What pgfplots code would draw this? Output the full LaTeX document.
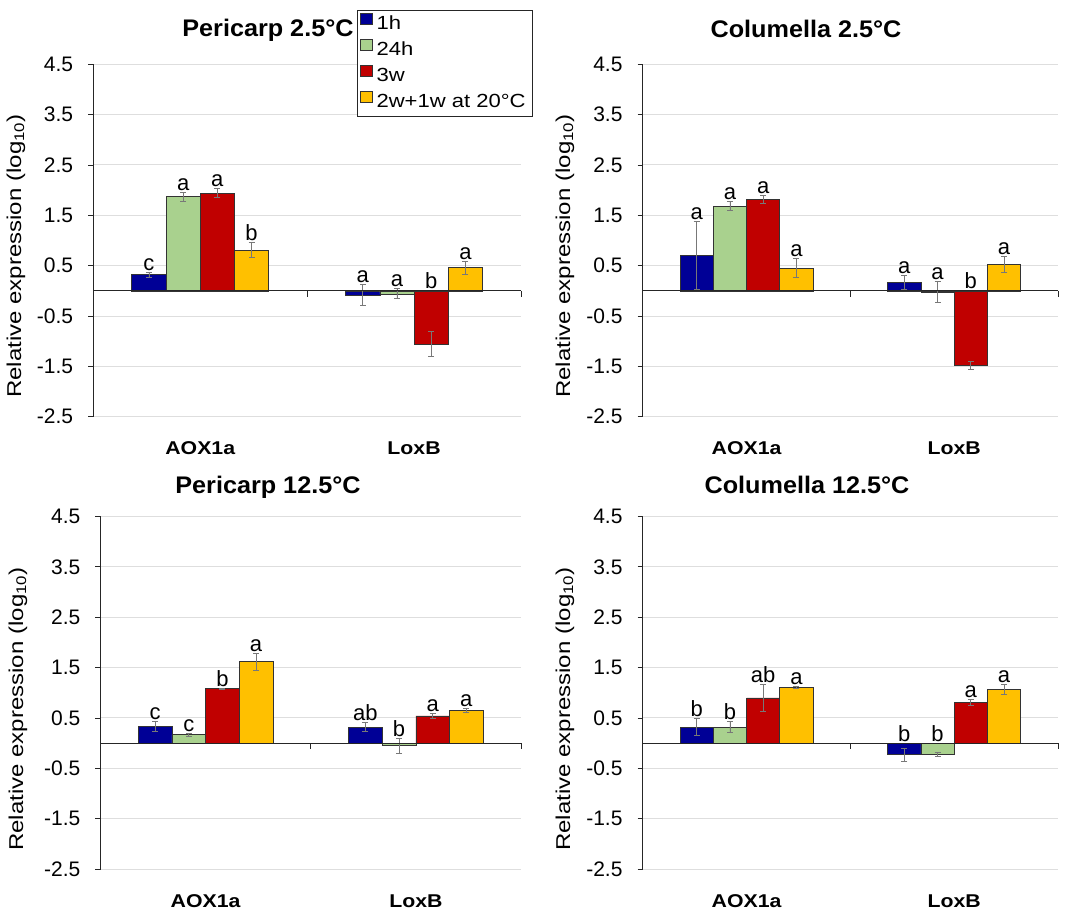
\documentclass[border=0pt]{standalone}
\usepackage{fontspec}
\setmainfont{Liberation Sans}
\usepackage{graphicx}
\usepackage{pgfplots}
\usepackage{pgfplotstable}
\pgfplotsset{compat=1.18}

\definecolor{c1}{RGB}{0,0,150}
\definecolor{c2}{RGB}{169,209,142}
\definecolor{c3}{RGB}{192,0,0}
\definecolor{c4}{RGB}{255,192,0}
\definecolor{errc}{RGB}{120,120,120}
\definecolor{gridc}{RGB}{222,222,222}

\newcommand\tickfont{\fontsize{21}{23}\selectfont}
\newcommand\titlefont{\fontsize{24}{26}\selectfont\bfseries}
\newcommand\xlfont{\fontsize{18.5}{20}\selectfont\bfseries}
\newcommand\legfont{\fontsize{19}{21}\selectfont}
\newcommand\ylfont{\fontsize{20}{22}\selectfont}
\newcommand\lblfont{\fontsize{22}{24}\selectfont}
\newcommand\hs[2]{\scalebox{#1}[1]{#2}}

% Pericarp 2.5 C
\pgfplotstableread{
x y1 e1 l1 y2 e2 l2 y3 e3 l3 y4 e4 l4
0 0.32 0.05 c 1.87 0.09 a 1.94 0.09 a 0.81 0.15 b
1 -0.08 0.20 a -0.06 0.10 a -1.06 0.25 b 0.46 0.13 a
}\tPA
% Columella 2.5 C
\pgfplotstableread{
x y1 e1 l1 y2 e2 l2 y3 e3 l3 y4 e4 l4
0 0.70 0.67 a 1.68 0.09 a 1.81 0.08 a 0.45 0.19 a
1 0.17 0.14 a -0.02 0.20 a -1.48 0.08 b 0.52 0.16 a
}\tCA
% Pericarp 12.5 C
\pgfplotstableread{
x y1 e1 l1 y2 e2 l2 y3 e3 l3 y4 e4 l4
0 0.34 0.10 c 0.17 0.03 c 1.08 0.01 b 1.62 0.17 a
1 0.32 0.09 ab -0.05 0.15 b 0.54 0.05 a 0.65 0.04 a
}\tPB
% Columella 12.5 C
\pgfplotstableread{
x y1 e1 l1 y2 e2 l2 y3 e3 l3 y4 e4 l4
0 0.32 0.17 b 0.32 0.11 b 0.90 0.26 ab 1.10 0.02 a
1 -0.23 0.13 b -0.22 0.04 b 0.81 0.06 a 1.07 0.10 a
}\tCB

\pgfplotsset{
  panel/.style={
    scale only axis, anchor=south west, height=352.4pt,
    ybar=0pt, bar width=0.16,
    xmin=-0.5, xmax=1.5, ymin=-2.5, ymax=4.5,
    axis y line*=left, axis x line*=bottom,
    x axis line style={draw=none},
    y axis line style={black!85, line width=0.9pt},
    xtick={0,1}, xticklabels={\hs{1.15}{AOX1a},\hs{1.15}{LoxB}},
    xtick style={draw=none},
    xticklabel style={font=\xlfont, anchor=base, yshift=-33pt, inner sep=0pt},
    ytick={-2.5,-1.5,-0.5,0.5,1.5,2.5,3.5,4.5},
    yticklabels={-2.5,-1.5,-0.5,0.5,1.5,2.5,3.5,4.5},
    yticklabel style={font=\tickfont, anchor=east, inner sep=0pt, xshift=-15pt},
    ytick style={black!85, line width=0.9pt},
    tick align=outside, major tick length=5pt,
    ymajorgrids, major grid style={gridc, line width=1pt},
    clip=false,
  },
  b1/.style={fill=c1, draw=black!80, line width=0.6pt, bar shift=-0.24},
  b2/.style={fill=c2, draw=black!80, line width=0.6pt, bar shift=-0.08},
  b3/.style={fill=c3, draw=black!80, line width=0.6pt, bar shift=0.08},
  b4/.style={fill=c4, draw=black!80, line width=0.6pt, bar shift=0.24},
  err/.style={error bars/y dir=both, error bars/y explicit,
    error bars/error bar style={errc, line width=0.8pt},
    error bars/error mark options={errc, line width=0.8pt, mark size=3pt, rotate=90}},
  lbl/.style={draw=none, fill=none, forget plot, nodes near coords={\pgfplotspointmeta},
    point meta=explicit symbolic,
    every node near coord/.append style={font=\lblfont, anchor=south, inner sep=1.5pt, text=black}},
}

\newcommand\panelplots[1]{%
  \addplot[b1, err] table[x=x, y=y1, y error=e1] {#1};
  \addplot[b2, err] table[x=x, y=y2, y error=e2] {#1};
  \addplot[b3, err] table[x=x, y=y3, y error=e3] {#1};
  \addplot[b4, err] table[x=x, y=y4, y error=e4] {#1};
  \addplot[lbl, bar shift=-0.24] table[x=x, y expr={max(0,\thisrow{y1}+\thisrow{e1})}, meta=l1] {#1};
  \addplot[lbl, bar shift=-0.08] table[x=x, y expr={max(0,\thisrow{y2}+\thisrow{e2})}, meta=l2] {#1};
  \addplot[lbl, bar shift=0.08] table[x=x, y expr={max(0,\thisrow{y3}+\thisrow{e3})}, meta=l3] {#1};
  \addplot[lbl, bar shift=0.24] table[x=x, y expr={max(0,\thisrow{y4}+\thisrow{e4})}, meta=l4] {#1};
  \draw[black!85, line width=0.9pt] (axis cs:-0.5,0) -- (axis cs:1.5,0);
  \draw[black!85, line width=0.9pt] (axis cs:0.5,0) -- ++(0pt,-6pt);
  \draw[black!85, line width=0.9pt] (axis cs:1.5,0) -- ++(0pt,-6pt);
}

\begin{document}
\begin{tikzpicture}[x=1pt,y=1pt]
\useasboundingbox (0,0) rectangle (1070,911);

% top-left
\begin{axis}[panel, at={(93.3pt,494.3pt)}, width=427.7pt,
  legend style={at={(0.6166,1.154)}, anchor=north west, draw=black!85, line width=0.8pt,
    font=\legfont, fill=white, inner xsep=3pt, inner ysep=1pt, row sep=0pt,
    nodes={inner sep=3.5pt, text height=15pt, text depth=4pt}, cells={anchor=west}},
  legend cell align=left,
  legend image code/.code={\draw[#1, line width=0.6pt] (0pt,0pt) rectangle (12pt,11pt);},
]
\panelplots{\tPA}
\legend{\hs{1.16}{1h},\hs{1.16}{24h},\hs{1.16}{3w},\hs{1.16}{2w+1w at 20°C}}
\end{axis}

% top-right
\begin{axis}[panel, at={(642.7pt,494.3pt)}, width=415.3pt]
\panelplots{\tCA}
\end{axis}

% bottom-left
\begin{axis}[panel, at={(100.5pt,42pt)}, width=420.5pt]
\panelplots{\tPB}
\end{axis}

% bottom-right
\begin{axis}[panel, at={(642.7pt,42pt)}, width=415.3pt]
\panelplots{\tCB}
\end{axis}

% titles
\node[font=\titlefont, anchor=base] at (268,874) {\hs{1.05}{Pericarp 2.5°C}};
\node[font=\titlefont, anchor=base] at (806,873) {\hs{1.05}{Columella 2.5°C}};
\node[font=\titlefont, anchor=base] at (268,417) {\hs{1.05}{Pericarp 12.5°C}};
\node[font=\titlefont, anchor=base] at (807,417) {\hs{1.05}{Columella 12.5°C}};

% y labels
\node[font=\ylfont, rotate=90, anchor=base] at (21,655) {\hs{1.2}{Relative expression (log\textsubscript{10})}};
\node[font=\ylfont, rotate=90, anchor=base] at (570,655) {\hs{1.2}{Relative expression (log\textsubscript{10})}};
\node[font=\ylfont, rotate=90, anchor=base] at (23,202) {\hs{1.2}{Relative expression (log\textsubscript{10})}};
\node[font=\ylfont, rotate=90, anchor=base] at (570,202) {\hs{1.2}{Relative expression (log\textsubscript{10})}};
\end{tikzpicture}
\end{document}
